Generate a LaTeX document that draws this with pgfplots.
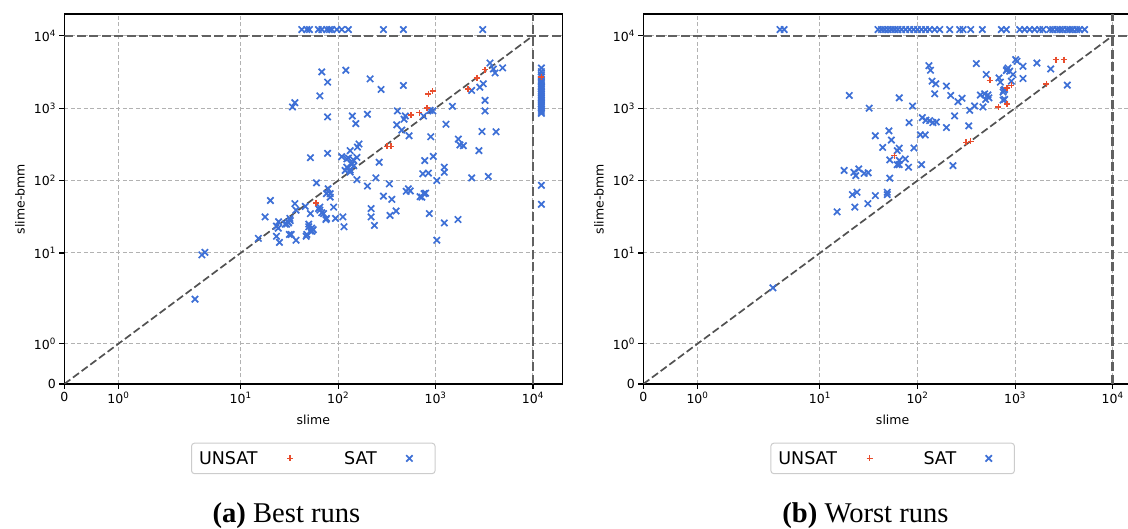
\documentclass[border=0pt]{standalone}
\usepackage{fontspec}
\setmainfont{DejaVu Sans}
\newfontfamily\capfont{Liberation Serif}
\usepackage{pgfplots}
\usepackage{pgfplotstable}
\pgfplotsset{compat=1.18}
\definecolor{satblue}{RGB}{62,112,214}
\definecolor{unsatred}{RGB}{232,78,46}

% ---------------- Best runs ----------------
\pgfplotstableread{
x y
3.4 2.3
4.0 9.4
4.3 10.2
15.2 15.9
17.8 31.5
20.2 53
23.3 17
25 14
23.3 23.5
24.5 27
24.3 22
28.6 25
31.6 18
31 26
32 30
33 18
37 15
37 39
46 44
47 17
50 25
50 23
52 20
54 20
52 35
60 93
63 41
68 36
75 29
52 207
34 1040
36 1190
68 3170
65 1480
78 2290
78 757
78 238
120 3340
213 2540
276 1815
468 2060
140 780
152 612
200 824
406 916
475 705
400 589
490 780
535 416
450 498
109 214
123 199
133 259
156 209
164 320
158 290
143 194
128 205
136 170
118 138
133 131
156 103
123 153
133 140
145 160
139 168
264 179
244 109
200 84
336 90
292 61
356 55
218 41
218 31.5
236 24
341 33
394 38
526 77
500 71
550 72
694 60
723 59
762 66
790 67
863 35
1030 15
1230 26
1700 29
1030 100
775 189
740 124
845 127
948 216
893 403
1280 600
1230 153
1230 130
1714 374
1930 303
1780 310
2350 109
2790 259
3000 476
3480 114
4180 472
3220 916
3220 1282
1490 1060
940 916
753 780
880 935
2350 1760
2850 1950
3090 2170
3620 4210
3920 3480
4080 3070
4880 3600
83 59
90 43
94 30
112 31.5
115 23
76 66
79 77
65 39
71 35
76 30
53.5 22
55.6 21
47.7 18
32.3 28
36 48
65 43
83 66
29.6 25
30.8 26.5
42.4 12200
47.7 12200
50.8 12200
62.8 12200
68.1 12200
76.6 12200
81.5 12200
86.1 12200
97 12200
109 12200
127.6 12200
292 12200
468 12200
3050 12200
12200 3590
12200 3200
12200 2900
12200 2700
12200 2500
12200 2350
12200 2200
12200 2050
12200 1950
12200 1850
12200 1750
12200 1650
12200 1550
12200 1450
12200 1380
12200 1300
12200 1230
12200 1150
12200 1080
12200 1020
12200 960
12200 900
12200 850
12200 86
12200 47
}\bestsat

\pgfplotstableread{
x y
59 49
316 297
350 297
561 800
683 867
813 1000
845 1580
935 1720
2140 1850
2650 2620
3220 3420
12200 2700
}\bestunsat

% ---------------- Worst runs ----------------
\pgfplotstableread{
x y
3.3 3.3
20 1500
15 37
17.7 138
21.5 64
24 69
22.8 43
22.3 130
23.3 117
25 145
28.4 126
31.2 128
31 48
32 1000
37 62
49 69
49 64
52 108
37 416
44 287
51 486
54 363
52 193
62 259
62 166
65 1390
89 1070
82 632
112 741
122 682
133 673
144 632
156 645
107 429
120 427
92 282
65 280
65 190
65 166
75 199
81 153
110 166
231 161
131 3870
136 3340
141 2360
154 2170
150 1580
198 2020
219 1500
260 1230
286 1370
240 782
198 540
343 935
335 570
401 4130
385 1072
441 1520
488 1580
527 1520
469 1040
499 1320
540 1390
507 2920
684 2620
707 2290
764 1760
826 3420
782 1320
1014 4690
1046 4450
1205 3790
846 3590
881 3240
815 3310
953 2920
916 2360
1205 2570
782 1815
754 1670
754 1295
1675 4210
2320 3480
3430 2080
3.9 12200
4.3 12200
39.4 12200
42.7 12200
46.1 12200
49.9 12200
54 12200
58.4 12200
63.1 12200
68.9 12200
75.7 12200
83.2 12200
91.5 12200
100 12200
110 12200
121 12200
133 12200
150 12200
169 12200
214 12200
271 12200
293 12200
351 12200
462 12200
724 12200
815 12200
1115 12200
1254 12200
1411 12200
1588 12200
1787 12200
1932 12200
2263 12200
2429 12200
2670 12200
2866 12200
3077 12200
3383 12200
3626 12200
3892 12200
4276 12200
4590 12200
5165 12200
}\worstsat

\pgfplotstableread{
x y
58 221
316 336
351 347
550 2420
675 1040
826 1150
826 1910
916 2060
2090 2170
2610 4690
3170 4690
}\worstunsat

\newcommand\symlogfwd[1]{\begingroup\pgfkeys{/pgf/fpu=true,/pgf/fpu/output format=fixed}%
  \pgfmathparse{ifthenelse(#1<2,#1*0.5555556,1.1111111+ln(max(#1,2)/2)/2.3025851)}%
  \pgfmathsmuggle\pgfmathresult\endgroup}
\newcommand\symloginv[1]{\begingroup\pgfkeys{/pgf/fpu=true,/pgf/fpu/output format=fixed}%
  \pgfmathparse{ifthenelse(#1<1.1111111,#1*1.8,2*exp((#1-1.1111111)*2.3025851))}%
  \pgfmathsmuggle\pgfmathresult\endgroup}

\pgfplotsset{
  symlog/.style={
    x coord trafo/.code={\symlogfwd{##1}},
    x coord inv trafo/.code={\symloginv{##1}},
    y coord trafo/.code={\symlogfwd{##1}},
    y coord inv trafo/.code={\symloginv{##1}},
  },
  myaxis/.style={
    symlog,
    scale only axis, height=370pt,
    xmin=0, xmax=20000, ymin=0, ymax=20000,
    xtick={0,1,10,100,1000,10000},
    ytick={0,1,10,100,1000,10000},
    xticklabels={0,10\textsuperscript{0},10\textsuperscript{1},10\textsuperscript{2},10\textsuperscript{3},10\textsuperscript{4}},
    yticklabels={0,10\textsuperscript{0},10\textsuperscript{1},10\textsuperscript{2},10\textsuperscript{3},10\textsuperscript{4}},
    grid=major,
    major grid style={dash pattern=on 4pt off 2.5pt, black!30, line width=1pt},
    axis line style={black, line width=1.1pt},
    tick align=outside, xtick pos=bottom, ytick pos=left,
    major tick length=4.9pt,
    tick style={black, line width=1.1pt},
    tick label style={font=\fontsize{12.5}{15}\selectfont},
    label style={font=\fontsize{12.5}{15}\selectfont},
    xlabel={slime}, ylabel={slime-bmm},
    xlabel style={at={(axis description cs:0.5,0)}, anchor=base, yshift=-41pt},
    ylabel style={at={(axis description cs:-0.089,0.5)}, anchor=center},
    legend style={at={(0.5,-0.1586)}, anchor=north, legend columns=2,
      draw=black!20, rounded corners=3pt, line width=1pt,
      inner xsep=5.5pt, inner ysep=6pt,
      font=\fontsize{17.5}{21}\selectfont,
      /tikz/every odd column/.append style={column sep=22pt},
      /tikz/every even column/.append style={column sep=31.8pt}},
    legend plot pos=right,
    reverse legend,
    legend image code/.code={%
      \pgfpathrectangle{\pgfpoint{0pt}{-3pt}}{\pgfpoint{28.7pt}{6pt}}\pgfusepath{discard}%
      \draw[mark repeat=2,mark phase=2] plot coordinates {(0pt,0pt)(8.5pt,0pt)(17pt,0pt)};},
  },
  satstyle/.style={only marks, mark=x, mark size=4.5pt, satblue, line width=1.7pt},
  unsatstyle/.style={only marks, mark=+, mark size=3pt, unsatred, line width=1.6pt},
  diagstyle/.style={black!68, line width=1.7pt, dash pattern=on 7.5pt off 3.3pt, forget plot},
  tostyle/.style={black!62, line width=2.3pt, dash pattern=on 9pt off 3.5pt, forget plot},
}

\begin{document}
\begin{tikzpicture}
\begin{axis}[myaxis, width=498pt, at={(64.3pt,145pt)}, anchor=south west]
  \addplot[diagstyle] coordinates {(0,0) (10000,10000)};
  \addplot[tostyle] coordinates {(10000,0) (10000,20000)};
  \addplot[tostyle] coordinates {(0,10000) (20000,10000)};
  \addplot[satstyle] table[x=x,y=y] {\bestsat};
  \addlegendentry{SAT}
  \addplot[unsatstyle] table[x=x,y=y] {\bestunsat};
  \addlegendentry{UNSAT}
\end{axis}
\begin{axis}[myaxis, width=498.7pt, at={(643.3pt,145pt)}, anchor=south west]
  \addplot[diagstyle] coordinates {(0,0) (10000,10000)};
  \addplot[tostyle] coordinates {(10000,0) (10000,20000)};
  \addplot[tostyle] coordinates {(0,10000) (20000,10000)};
  \addplot[satstyle] table[x=x,y=y] {\worstsat};
  \addlegendentry{SAT}
  \addplot[unsatstyle] table[x=x,y=y] {\worstunsat};
  \addlegendentry{UNSAT}
\end{axis}
\node[anchor=base] at (286.5pt,6.5pt) {\capfont\fontsize{28.6}{32}\selectfont\textbf{(a)} Best runs};
\node[anchor=base] at (865.5pt,6.5pt) {\capfont\fontsize{28.6}{32}\selectfont\textbf{(b)} Worst runs};
\pgfresetboundingbox
\useasboundingbox (0,0) rectangle (1128pt,529pt);
\end{tikzpicture}
\end{document}
